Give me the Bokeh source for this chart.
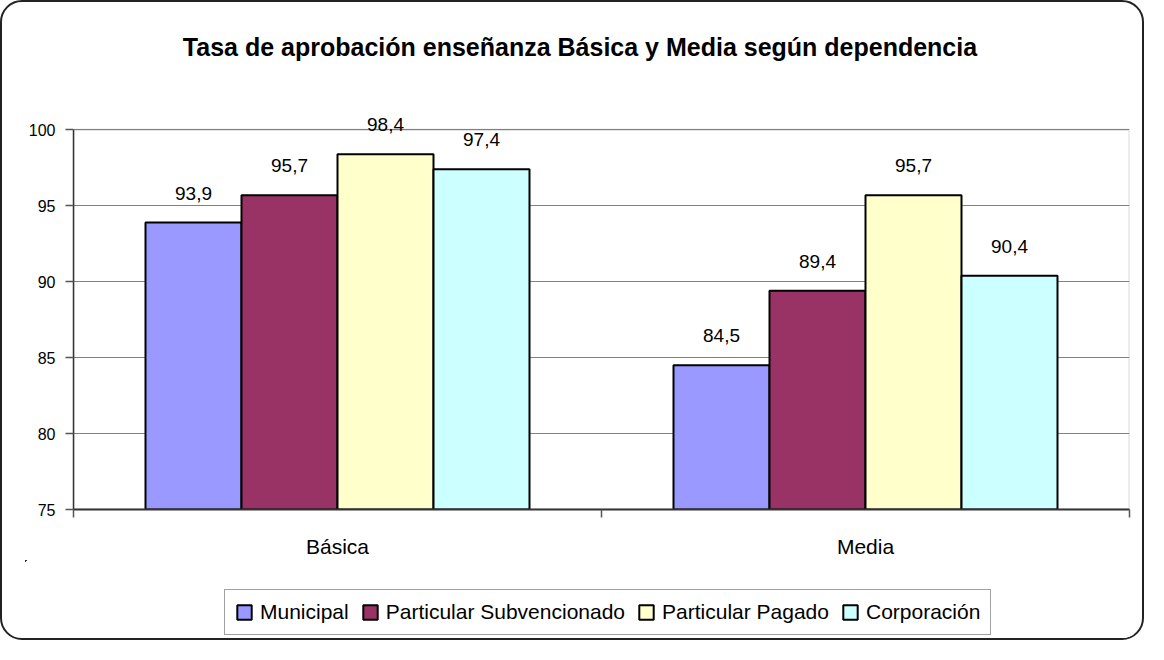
from bokeh.plotting import figure
from bokeh.layouts import column, row
from bokeh.models import (ColumnDataSource, Range1d, FixedTicker, Legend, LegendItem,
                          CustomJSTickFormatter, Spacer, LabelSet, BoxAnnotation)
from bokeh.transform import dodge
from bokeh.core.properties import value
from bokeh.embed import file_html
from bokeh.resources import INLINE

# ---- data ----
categories = ["Básica", "Media"]
series_names = ["Municipal", "Particular Subvencionado", "Particular Pagado", "Corporación"]
municipal = [93.9, 84.5]
subvencionado = [95.7, 89.4]
pagado = [98.4, 95.7]
corporacion = [97.4, 90.4]
y_ticks = [75, 80, 85, 90, 95, 100]
title_text = "Tasa de aprobación enseñanza Básica y Media según dependencia"

series_values = [municipal, subvencionado, pagado, corporacion]
colors = ["#9999FF", "#993366", "#FFFFCC", "#CCFFFF"]

FONT = "Liberation Sans"
W = 1109
Y_HEADROOM = 2  # room above the plot area for the value labels

# ---- title strip ----
tq = figure(width=W, height=39, output_backend="svg", toolbar_location=None,
            x_range=Range1d(0, 1), y_range=Range1d(0, 1),
            x_axis_location=None, y_axis_location=None, min_border=0)
tq.outline_line_color = None
tq.grid.visible = False
tq.title.text = title_text
tq.title.align = "center"
tq.title.text_font = FONT
tq.title.text_font_size = "25px"
tq.title.text_font_style = "bold"
tq.title.text_color = "black"
tq.title.standoff = 0
tq.title.offset = -5

# ---- main chart ----
p = figure(width=W, height=491, output_backend="svg", toolbar_location=None,
           x_range=Range1d(0, len(categories)),
           y_range=Range1d(y_ticks[0], y_ticks[-1] + Y_HEADROOM),
           min_border_top=30)
p.background_fill_color = "white"
p.border_fill_color = "white"
p.outline_line_color = None
p.add_layout(BoxAnnotation(left=0, right=len(categories), bottom=y_ticks[0], top=y_ticks[-1],
                           fill_alpha=0, line_color="#808080", line_width=2,
                           level="underlay"))

# ---- legend strip ----
q = figure(width=W, height=80, output_backend="svg", toolbar_location=None,
           x_range=Range1d(10, 11), y_range=Range1d(-10, -9),
           x_axis_location=None, y_axis_location=None, min_border=0)
q.outline_line_color = None
q.grid.visible = False

n = len(series_names)
w = 1.0 / (n + 1.5)
xs = [k + 0.5 for k in range(len(categories))]
items = []
for i, (name, vals, col) in enumerate(zip(series_names, series_values, colors)):
    off = (i - (n - 1) / 2) * w
    src = ColumnDataSource(dict(x=xs, top=vals,
                                label=[f"{v:.1f}".replace(".", ",") for v in vals]))
    p.vbar(x=dodge("x", off), top="top", bottom=y_ticks[0], width=w, source=src,
           fill_color=col, line_color="black", line_width=2)
    p.add_layout(LabelSet(x=dodge("x", off), y="top", text="label", source=src,
                          text_align="center", text_baseline="alphabetic", y_offset=23,
                          text_font=value(FONT), text_font_size="19px",
                          text_color="black"))
    # same series in the legend strip (outside its visible range) to feed the legend
    r = q.vbar(x=dodge("x", off), top="top", bottom=y_ticks[0], width=w, source=src,
               fill_color=col, line_color="black", line_width=2)
    items.append(LegendItem(label=name, renderers=[r]))

yax = p.yaxis[0]
yax.ticker = FixedTicker(ticks=y_ticks)
yax.bounds = (y_ticks[0], y_ticks[-1])
yax.axis_line_color = "#333333"
yax.axis_line_width = 1.5
yax.major_tick_line_color = "#555555"
yax.major_tick_line_width = 1.5
yax.major_tick_out = 8
yax.major_tick_in = 0
yax.minor_tick_out = 0
yax.minor_tick_in = 0
yax.major_label_text_font = FONT
yax.major_label_text_font_size = "16px"
yax.major_label_text_color = "black"
yax.major_label_standoff = 10

xax = p.xaxis[0]
xax.ticker = FixedTicker(ticks=xs, minor_ticks=list(range(len(categories) + 1)))
xax.formatter = CustomJSTickFormatter(args=dict(cats=categories),
                                      code="return cats[Math.floor(tick)];")
xax.axis_line_color = "#333333"
xax.axis_line_width = 2
xax.major_tick_out = 0
xax.major_tick_in = 0
xax.minor_tick_out = 8
xax.minor_tick_in = 0
xax.minor_tick_line_color = "#555555"
xax.minor_tick_line_width = 1.5
xax.major_label_text_font = FONT
xax.major_label_text_font_size = "21px"
xax.major_label_text_color = "black"
xax.major_label_standoff = 17

p.xgrid.visible = False
p.ygrid[0].ticker = FixedTicker(ticks=y_ticks)
p.ygrid.grid_line_color = "#808080"
p.ygrid.grid_line_width = 1

legend = Legend(items=items, orientation="horizontal", location=(199, 5),
                label_text_font=FONT, label_text_font_size="21px", label_text_color="black",
                glyph_width=18, glyph_height=18, label_standoff=7, spacing=12,
                padding=10, margin=0, border_line_color="#444444", border_line_width=1,
                background_fill_color="white")
q.add_layout(legend)

layout = column(Spacer(height=28),
                row(Spacer(width=23), tq),
                row(Spacer(width=23), p),
                row(Spacer(width=23), q),
                width=1144, height=640,
                styles={"border": "2px solid #222222", "border-radius": "22px",
                        "overflow": "hidden", "background": "white"})

open("out.html", "w").write(file_html(layout, INLINE))
